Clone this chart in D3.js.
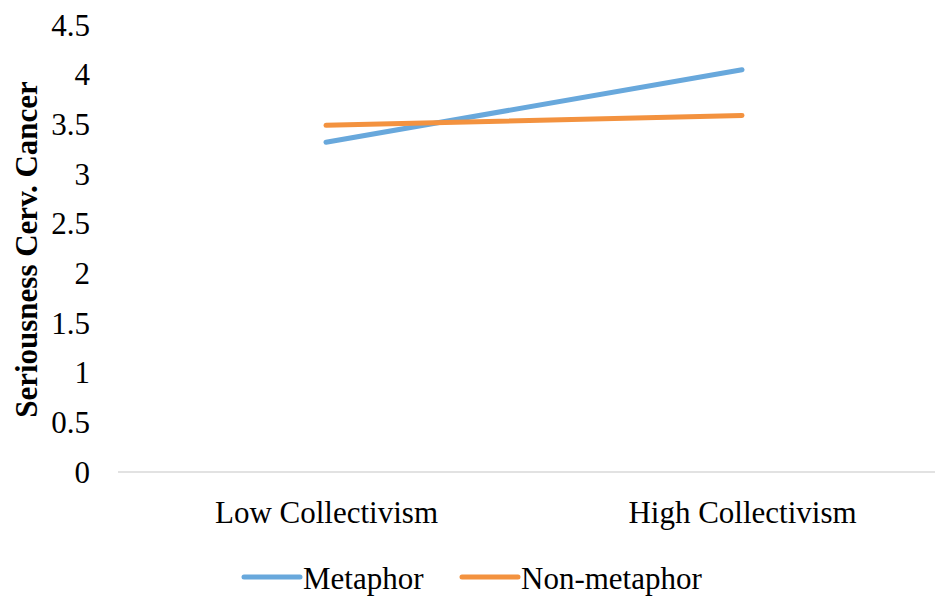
<!DOCTYPE html>
<html>
<head>
<meta charset="utf-8">
<script src="https://cdn.jsdelivr.net/npm/d3@7"></script>
<style>
  html, body { margin: 0; padding: 0; background: #fff; }
  svg { display: block; }
  svg text { font-family: "Liberation Serif", "Times New Roman", "DejaVu Serif", serif; fill: #000; }
</style>
</head>
<body>
<svg id="chart" width="935" height="604"></svg>
<script>
// Collectivism level on the x axis
const categories = ["Low Collectivism", "High Collectivism"];
// Mean perceived seriousness of cervical cancer per condition
const metaphor = [3.32, 4.05];
const nonMetaphor = [3.49, 3.59];
const seriesNames = ["Metaphor", "Non-metaphor"];
const yTicks = [0, 0.5, 1, 1.5, 2, 2.5, 3, 3.5, 4, 4.5];

const colors = ["#68A8DC", "#F3923F"];
const series = [metaphor, nonMetaphor];
const FONT = "'Liberation Serif', 'Times New Roman', 'DejaVu Serif', serif";

const svg = d3.select("#chart");
const plot = { left: 118, right: 950, top: 25, bottom: 472 };

const x = d3.scalePoint().domain(categories).range([plot.left, plot.right]).padding(0.5);
const y = d3.scaleLinear().domain([0, 4.5]).range([plot.bottom, plot.top]);

// Baseline at zero
svg.append("line")
  .attr("x1", plot.left).attr("x2", plot.right)
  .attr("y1", y(0)).attr("y2", y(0))
  .attr("stroke", "#d9d9d9").attr("stroke-width", 1.5);

// Y axis tick labels
const yAxis = d3.axisLeft(y).tickValues(yTicks).tickSize(0).tickPadding(0)
  .tickFormat(d => String(d));
svg.append("g")
  .attr("transform", `translate(90,0)`)
  .call(yAxis)
  .attr("font-family", FONT)
  .attr("font-size", 31)
  .call(g => g.select(".domain").remove())
  .selectAll("text")
  .attr("dy", "0.33em");

// X axis category labels
const xAxis = d3.axisBottom(x).tickSize(0).tickPadding(0);
svg.append("g")
  .attr("transform", `translate(0,523)`)
  .call(xAxis)
  .attr("font-family", FONT)
  .attr("font-size", 31)
  .call(g => g.select(".domain").remove())
  .selectAll("text")
  .attr("dy", 0)
  .attr("y", 0);

// Y axis title
svg.append("text")
  .attr("transform", `translate(37,${(plot.top + plot.bottom) / 2 + 1}) rotate(-90)`)
  .attr("text-anchor", "middle")
  .attr("font-family", FONT)
  .attr("font-size", 31)
  .attr("font-weight", "bold")
  .text("Seriousness Cerv. Cancer");

// Series lines
const line = d3.line().x((d, i) => x(categories[i])).y(d => y(d));
series.forEach((s, i) => {
  svg.append("path")
    .datum(s)
    .attr("d", line)
    .attr("fill", "none")
    .attr("stroke", colors[i])
    .attr("stroke-width", 5)
    .attr("stroke-linecap", "round");
});

// Legend
const legendItems = [
  { name: seriesNames[0], color: colors[0], x: 244 },
  { name: seriesNames[1], color: colors[1], x: 462 }
];
const ly = 577;
legendItems.forEach(item => {
  svg.append("line")
    .attr("x1", item.x).attr("x2", item.x + 56)
    .attr("y1", ly).attr("y2", ly)
    .attr("stroke", item.color).attr("stroke-width", 5)
    .attr("stroke-linecap", "round");
  svg.append("text")
    .attr("x", item.x + 59).attr("y", ly + 12)
    .attr("font-family", FONT)
    .attr("font-size", 31)
    .text(item.name);
});
</script>
</body>
</html>
